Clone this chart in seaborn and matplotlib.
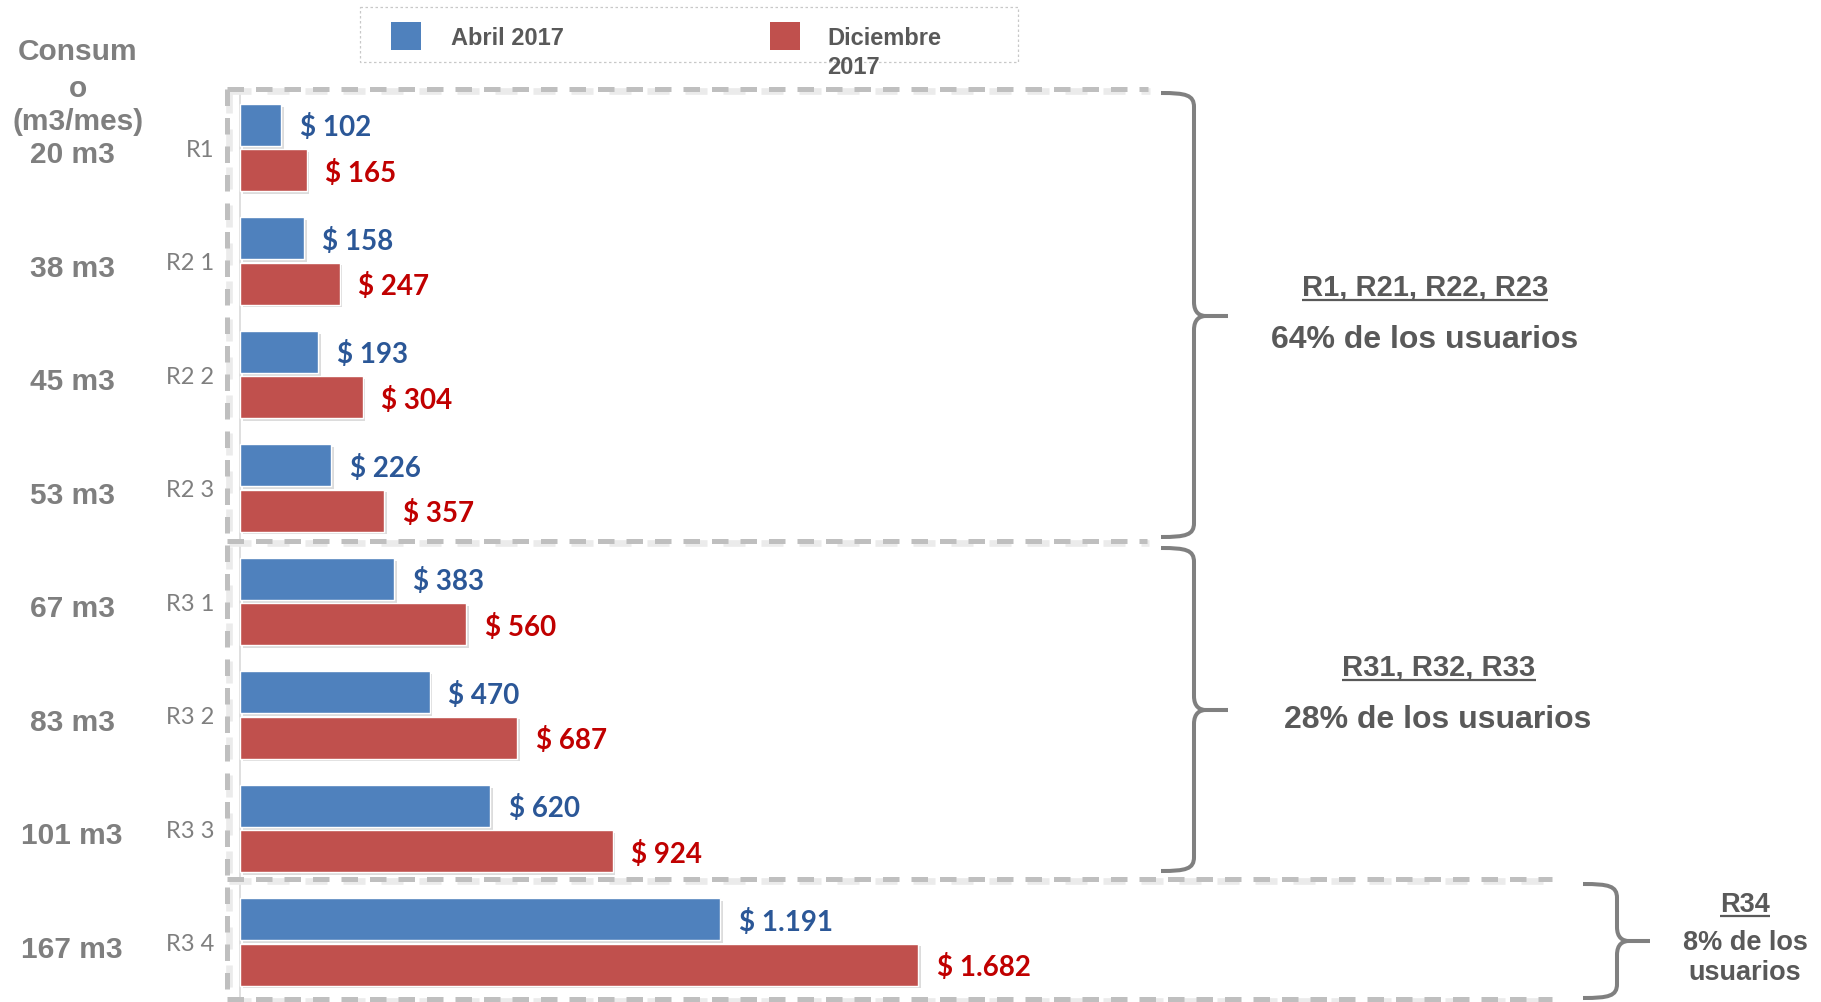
import numpy as np
import pandas as pd
import matplotlib
matplotlib.use("Agg")
import matplotlib.pyplot as plt
import seaborn as sns
from matplotlib.path import Path
from matplotlib.patches import PathPatch, Rectangle
import matplotlib.patheffects as pe

# ---------------- data ----------------
categories = ["R1", "R2 1", "R2 2", "R2 3", "R3 1", "R3 2", "R3 3", "R3 4"]
consumo = ["20 m3", "38 m3", "45 m3", "53 m3", "67 m3", "83 m3", "101 m3", "167 m3"]
abril_2017 = [102, 158, 193, 226, 383, 470, 620, 1191]
diciembre_2017 = [165, 247, 304, 357, 560, 687, 924, 1682]
series = ["Abril 2017", "Diciembre 2017"]
header_lines = ["Consum", "o", "(m3/mes)"]
group_titles = ["R1, R21, R22, R23", "R31, R32, R33", "R34"]
group_shares = ["64% de los usuarios", "28% de los usuarios", "8% de los\nusuarios"]

BLUE, RED = "#4F81BD", "#C0504D"
BLUE_TXT, RED_TXT = "#2B5797", "#C00000"
GRAY_LBL = "#7F7F7F"
GRAY_TXT = "#595959"
DASH_COL = "#BFBFBF"
BRACE_COL = "#808080"

sns.set_theme(style="white")
plt.rcParams["font.family"] = ["Liberation Sans", "DejaVu Sans"]
LATO = ["Lato", "DejaVu Sans"]

W, H = 1821, 1002
fig = plt.figure(figsize=(W / 100, H / 100), dpi=100)
fig.patch.set_facecolor("white")

# ---------------- bars ----------------
ax = fig.add_axes([0, 0, 1, 1])
df = pd.DataFrame({
    "Categoria": categories * 2,
    "Serie": [series[0]] * len(categories) + [series[1]] * len(categories),
    "Valor": abril_2017 + diciembre_2017,
})
sns.barplot(data=df, y="Categoria", x="Valor", hue="Serie", order=categories,
            hue_order=series, palette=[BLUE, RED], saturation=1, width=0.8,
            gap=0.075, orient="h", errorbar=None, legend=False, ax=ax,
            edgecolor="white", linewidth=1.0)
# x: value 0 at pixel 240, 0.403 px per unit ; y: category spacing 113.5 px
ax.set_xlim(-595.5, 3922.0)
ax.set_ylim(7.5286, -1.2996)
ax.axis("off")
ax.patch.set_alpha(0)

for p in ax.patches:
    p.set_path_effects([pe.SimplePatchShadow(offset=(2, -2), shadow_rgbFace="#777777", alpha=0.25),
                        pe.Normal()])

# axis line at 0
ax.plot([0, 0], [-0.5, 7.53], color="#D9D9D9", lw=1.2, zorder=0.5)


def fmt(v):
    return "$ " + f"{int(round(v)):,}".replace(",", ".")


for cont, col in zip(ax.containers, [BLUE_TXT, RED_TXT]):
    for bar in cont:
        v = bar.get_width()
        yc = bar.get_y() + bar.get_height() / 2
        ax.annotate(fmt(v), xy=(v, yc), xytext=(13.5, -8.3), textcoords="offset points",
                    ha="left", va="baseline", color=col, fontsize=20,
                    fontweight="bold", family=LATO)

for i, (cat, cons) in enumerate(zip(categories, consumo)):
    ax.annotate(cat, xy=(214, i), xycoords=("figure pixels", "data"), xytext=(0, -6.8),
                textcoords="offset points", ha="right", va="baseline", fontsize=17,
                color=GRAY_LBL, family=LATO)
    ax.annotate(cons, xy=(72, i), xycoords=("figure pixels", "data"), xytext=(0, -11.2),
                textcoords="offset points", ha="center", va="baseline", fontsize=21.5,
                color=GRAY_LBL, fontweight="bold")

# ---------------- decorations (pixel coords, y down) ----------------
deco = fig.add_axes([0, 0, 1, 1], facecolor="none")
deco.set_xlim(0, W)
deco.set_ylim(H, 0)
deco.axis("off")

for txt, yb in zip(header_lines, [60, 97, 130]):
    deco.text(78, yb, txt, ha="center", va="baseline", fontsize=21.5,
              color=GRAY_LBL, fontweight="bold")

# dashed group boxes
dash_ls = (0, (3.3, 2.4))
segments = [
    ((227, 227), (89, 1000)),
    ((227, 1148), (89, 89)),
    ((227, 1147), (541, 541)),
    ((227, 1552), (879, 879)),
    ((227, 1552), (999, 999)),
]
for xs, ys in segments:
    deco.plot([x + 1.5 for x in xs], [y + 2 for y in ys], color="#EBEBEB", lw=4.8,
              ls=dash_ls, zorder=1)
for xs, ys in segments:
    deco.plot(xs, ys, color=DASH_COL, lw=3.6, ls=dash_ls, zorder=2)


def brace(x0, xs, xt, top, bot, tip):
    verts = [
        (x0, top), (xs - 8, top), (xs, top + 2), (xs, top + 14),
        (xs, tip - 14),
        (xs, tip - 3), (xs + 6, tip), (xs + 12, tip),
        (xt, tip),
    ]
    codes = [Path.MOVETO, Path.CURVE4, Path.CURVE4, Path.CURVE4, Path.LINETO,
             Path.CURVE4, Path.CURVE4, Path.CURVE4, Path.LINETO]
    verts2 = [
        (xt, tip), (xs + 12, tip),
        (xs + 6, tip), (xs, tip + 3), (xs, tip + 14),
        (xs, bot - 14),
        (xs, bot - 2), (xs - 8, bot), (x0, bot),
    ]
    codes2 = [Path.MOVETO, Path.LINETO, Path.CURVE4, Path.CURVE4, Path.CURVE4,
              Path.LINETO, Path.CURVE4, Path.CURVE4, Path.CURVE4]
    for v, c in ((verts, codes), (verts2, codes2)):
        deco.add_patch(PathPatch(Path(v, c), fill=False, edgecolor=BRACE_COL,
                                 lw=2.9, capstyle="butt", joinstyle="round"))


brace(1161, 1194, 1228, 93, 537, 316)
brace(1161, 1194, 1228, 548, 871, 710)
brace(1583, 1617, 1650, 884, 998, 941)

underlined = []
t = deco.text(1425, 296, group_titles[0], ha="center", va="baseline", fontsize=21,
              fontweight="bold", color=GRAY_TXT)
underlined.append((t, 300))
deco.text(1425, 348, group_shares[0], ha="center", va="baseline", fontsize=23,
          fontweight="bold", color=GRAY_TXT)
t = deco.text(1439, 675, group_titles[1], ha="center", va="baseline", fontsize=21,
              fontweight="bold", color=GRAY_TXT)
underlined.append((t, 680))
deco.text(1438, 728, group_shares[1], ha="center", va="baseline", fontsize=23,
          fontweight="bold", color=GRAY_TXT)
t = deco.text(1745, 912, group_titles[2], ha="center", va="baseline", fontsize=19.5,
              fontweight="bold", color=GRAY_TXT)
underlined.append((t, 916))
for line, yb in zip(group_shares[2].split("\n"), [950, 980]):
    deco.text(1745, yb, line, ha="center", va="baseline", fontsize=19.5,
              fontweight="bold", color=GRAY_TXT)

# legend
deco.add_patch(Rectangle((360, 7), 658, 55, fill=False, edgecolor="#C8C8C8",
                         lw=0.9, ls=(0, (2, 2))))
deco.add_patch(Rectangle((391, 22), 30, 28, facecolor=BLUE, edgecolor="none"))
deco.add_patch(Rectangle((770, 22), 30, 28, facecolor=RED, edgecolor="none"))
deco.text(451, 45, series[0], ha="left", va="baseline", fontsize=17,
          fontweight="bold", color=GRAY_TXT)
leg2 = series[1].split(" ")
deco.text(827, 45, leg2[0], ha="left", va="baseline", fontsize=17,
          fontweight="bold", color=GRAY_TXT)
deco.text(827, 74, leg2[1], ha="left", va="baseline", fontsize=17,
          fontweight="bold", color=GRAY_TXT)

fig.canvas.draw()
r = fig.canvas.get_renderer()
for t, yu in underlined:
    bb = t.get_window_extent(r)
    deco.plot([bb.x0, bb.x1], [yu, yu], color=GRAY_TXT, lw=1.6, solid_capstyle="butt")

fig.savefig("out.png", dpi=100, facecolor="white")
